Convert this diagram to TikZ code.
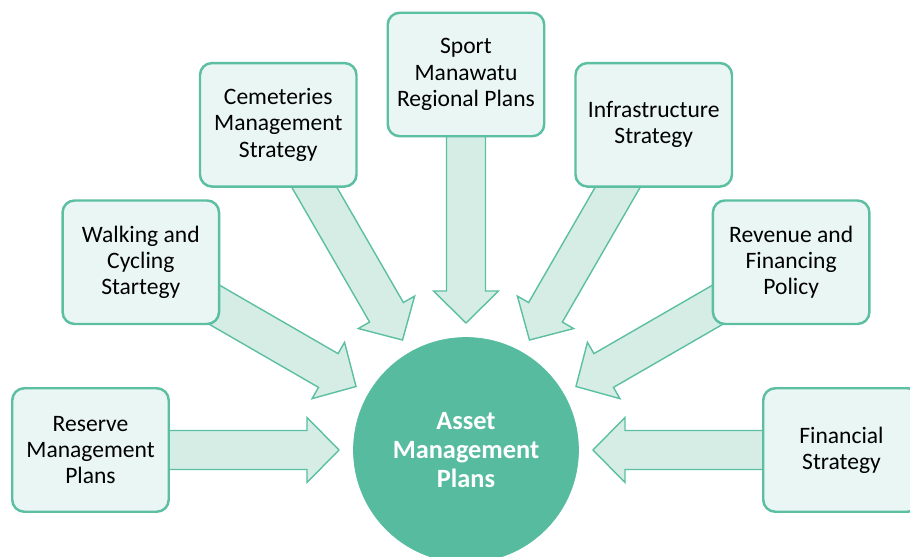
\documentclass[tikz,border=0pt]{standalone}
\usepackage{fontspec}
\setmainfont{Carlito}
\usepackage{tikz}
\usetikzlibrary{calc,backgrounds}

\definecolor{hubgreen}{RGB}{87,188,159}
\definecolor{edgegreen}{RGB}{92,191,161}
\definecolor{boxfill}{RGB}{234,246,243}
\definecolor{arrowfill}{RGB}{214,237,230}

% block arrow from a plan box towards the hub
\newcommand{\feed}[1]{%
  \coordinate (tip) at ($(hub.center)!2.54cm!(#1.center)$);
  \coordinate (neck) at ($(hub.center)!3.18cm!(#1.center)$);
  \draw[feedarrow] (tip) -- ($(neck)!0.65cm!90:(#1.center)$) -- ($(neck)!0.39cm!90:(#1.center)$)
    -- ($(#1.center)!0.39cm!-90:(neck)$) -- ($(#1.center)!0.39cm!90:(neck)$)
    -- ($(neck)!0.39cm!-90:(#1.center)$) -- ($(neck)!0.65cm!-90:(#1.center)$) -- cycle;}

\begin{document}
\begin{tikzpicture}[
  plan/.style={draw=edgegreen, line width=1.4pt, fill=boxfill, rounded corners=0.24cm,
    minimum width=3.13cm, minimum height=2.47cm, align=center,
    font=\fontsize{13.4}{14.9}\selectfont},
  feedarrow/.style={draw=edgegreen, line width=0.8pt, fill=arrowfill, line join=miter}]
\clip (-9.32,-2.14) rectangle (8.88,9.0);
\node [circle, fill=hubgreen, draw=hubgreen, minimum size=4.5cm, text=white, align=center,
  font=\bfseries\fontsize{15}{16.3}\selectfont] (hub) at (0,0) {Asset\\Management\\Plans};
\node [plan] (reserve) at (180:7.51) {Reserve\\Management\\Plans};
\node [plan] (walking) at (150:7.51) {Walking and\\Cycling\\Startegy};
\node [plan] (cemeteries) at (120:7.51) {Cemeteries\\Management\\Strategy};
\node [plan] (sport) at (90:7.51) {Sport\\Manawatu\\Regional Plans};
\node [plan] (infra) at (60:7.51) {Infrastructure\\Strategy};
\node [plan] (revenue) at (30:7.51) {Revenue and\\Financing\\Policy};
\node [plan] (financial) at (0:7.51) {Financial\\Strategy};
\begin{scope}[on background layer]
\feed{reserve}
\feed{walking}
\feed{cemeteries}
\feed{sport}
\feed{infra}
\feed{revenue}
\feed{financial}
\end{scope}
%\draw[gray,step=0.5] (-9.32,-2.14) grid (8.88,9.0);
\end{tikzpicture}
\end{document}
